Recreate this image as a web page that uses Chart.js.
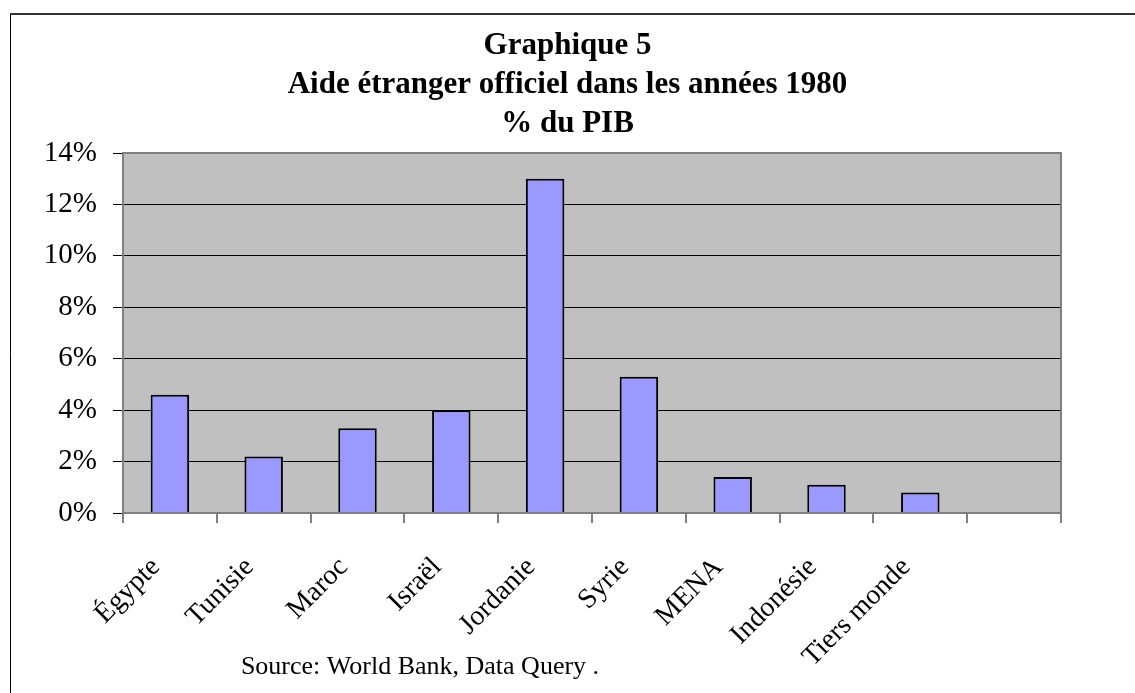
<!DOCTYPE html>
<html>
<head>
<meta charset="utf-8">
<script src="https://cdn.jsdelivr.net/npm/chart.js@4"></script>
<style>
  html, body { margin: 0; padding: 0; background: #fff; }
  #wrap { width: 1135px; height: 693px; }
</style>
</head>
<body>
<div id="wrap"><canvas id="aideChart" width="1135" height="693"></canvas></div>
<script>
// data (share of GDP, %)
const countries = ['Égypte', 'Tunisie', 'Maroc', 'Israël', 'Jordanie', 'Syrie', 'MENA', 'Indonésie', 'Tiers monde', ''];
const aidePct = [4.6, 2.2, 3.3, 4.0, 13.0, 5.3, 1.4, 1.1, 0.8, null];
const yTicks = [0, 2, 4, 6, 8, 10, 12, 14];
const titleLines = ['Graphique 5', 'Aide étranger officiel dans les années 1980', '% du PIB'];
const sourceText = 'Source: World Bank, Data Query .';

const serif = 'Liberation Serif';

// grey plot background, frame and source note
const decor = {
  id: 'decor',
  beforeDraw(chart) {
    const { ctx, chartArea: a } = chart;
    ctx.save();
    ctx.fillStyle = '#c0c0c0';
    ctx.fillRect(a.left, a.top, a.right - a.left, a.bottom - a.top);
    // outer frame (only left and top visible)
    ctx.strokeStyle = '#000';
    ctx.lineWidth = 1;
    ctx.beginPath();
    ctx.moveTo(10.5, 14);
    ctx.lineTo(10.5, chart.height);
    ctx.stroke();
    ctx.strokeStyle = '#333';
    ctx.lineWidth = 2;
    ctx.beginPath();
    ctx.moveTo(10, 14);
    ctx.lineTo(chart.width, 14);
    ctx.stroke();
    ctx.restore();
  },
  afterDatasetsDraw(chart) {
    const { ctx, chartArea: a } = chart;
    ctx.save();
    ctx.strokeStyle = '#808080';
    ctx.lineWidth = 2;
    ctx.strokeRect(a.left, a.top, a.right - a.left, a.bottom - a.top);
    ctx.restore();
  },
  afterDraw(chart) {
    const ctx = chart.ctx;
    ctx.save();
    ctx.fillStyle = '#000';
    ctx.font = '26px "' + serif + '"';
    ctx.textAlign = 'center';
    ctx.textBaseline = 'middle';
    ctx.fillText(sourceText, 420, 667);
    ctx.restore();
  }
};

const ctx = document.getElementById('aideChart').getContext('2d');
const aideChart = new Chart(ctx, {
  type: 'bar',
  data: {
    labels: countries,
    datasets: [
      {
        label: 'Aide (% du PIB)',
        data: aidePct,
        backgroundColor: '#9999ff',
        borderColor: '#000',
        borderWidth: 2,
        barPercentage: 0.41,
        categoryPercentage: 1,
      },
    ],
  },
  options: {
    responsive: false,
    animation: false,
    layout: { padding: { left: 0, right: 0, top: 0, bottom: 0 } },
    plugins: {
      legend: { display: false },
      tooltip: { enabled: false },
      title: {
        display: true,
        text: titleLines,
        color: '#000',
        font: { family: serif, size: 31, weight: 'bold', lineHeight: 39 / 31 },
        padding: { top: 26, bottom: 10 },
      },
    },
    scales: {
      x: {
        afterFit: (scale) => { scale.height = 180; },
        grid: {
          display: true,
          drawOnChartArea: false,
          drawTicks: true,
          tickLength: 10,
          color: '#808080',
          lineWidth: 2,
        },
        border: { display: false },
        ticks: {
          color: '#000',
          font: { family: serif, size: 28 },
          minRotation: 45,
          maxRotation: 45,
          autoSkip: false,
          padding: 28,
          labelOffset: -14,
        },
      },
      y: {
        min: 0,
        max: 14,
        afterFit: (scale) => { scale.width = 123; },
        afterBuildTicks: (scale) => { scale.ticks = yTicks.map((v) => ({ value: v })); },
        grid: {
          color: '#000',
          lineWidth: 1,
          tickLength: 10,
        },
        border: { display: false },
        ticks: {
          color: '#000',
          font: { family: serif, size: 29 },
          padding: 16,
          callback: (v) => v + '%',
        },
      },
      // empty right-hand strip, keeps the title centred on the page
      yRight: {
        position: 'right',
        afterFit: (scale) => { scale.width = 74; },
        grid: { display: false },
        border: { display: false },
        ticks: { display: false },
      },
    },
  },
  plugins: [decor],
});
</script>
</body>
</html>
